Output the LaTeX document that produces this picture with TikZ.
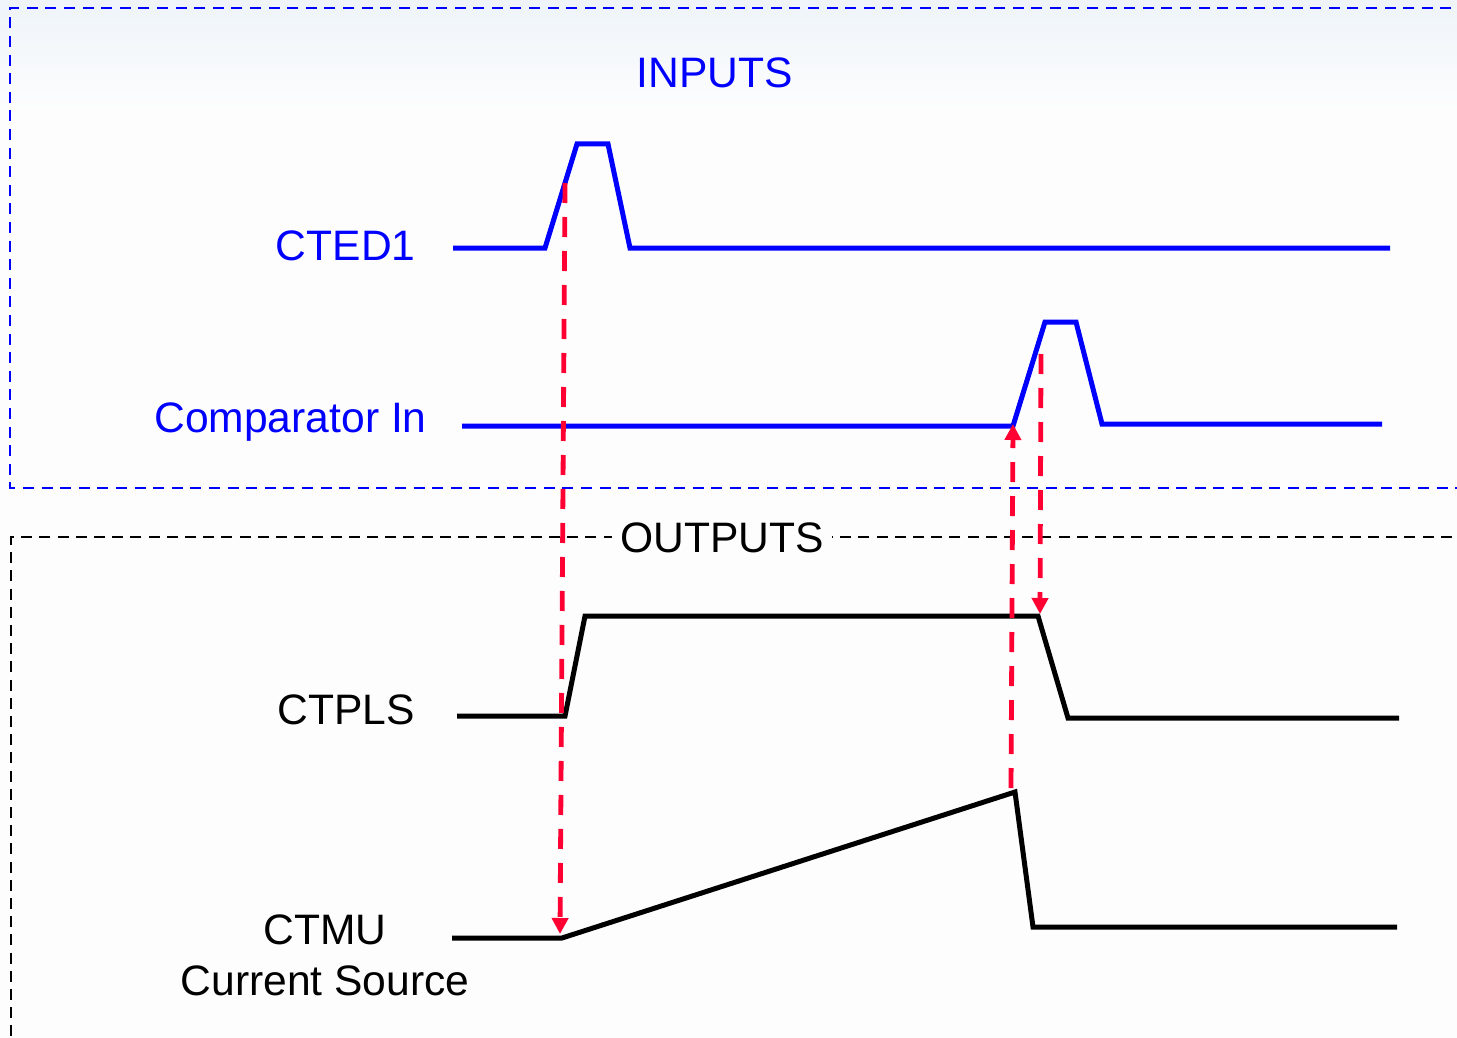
\documentclass[tikz,border=0pt]{standalone}
\usepackage{fontspec}
\setmainfont{Liberation Sans}
\usetikzlibrary{arrows.meta}
\definecolor{sigblue}{RGB}{0,0,255}
\definecolor{markred}{RGB}{255,0,51}
\definecolor{bgcol}{RGB}{253,253,253}
\definecolor{bgtop}{RGB}{238,244,250}
\begin{document}
\begin{tikzpicture}[x=0.5pt,y=-0.5pt,
  sigin/.style={draw=sigblue,line width=2.5pt,line join=miter},
  sigout/.style={draw=black,line width=2.5pt,line join=miter},
  inbox/.style={draw=sigblue,line width=1.2pt,dash pattern=on 5.5pt off 3.8pt},
  outbox/.style={draw=black,line width=1.1pt,dash pattern=on 5.5pt off 3.6pt},
  marker/.style={draw=markred,line width=2.4pt,dash pattern=on 10pt off 7pt,-{Triangle[width=8pt,length=8pt]}},
  lbl/.style={font=\fontsize{21.3pt}{25pt}\selectfont,inner sep=0pt},
]
\useasboundingbox (0,0) rectangle (1457,1038);
\fill[bgcol] (0,0) rectangle (1457,1038);
\shade[top color=bgtop,bottom color=bgcol] (0,0) rectangle (1457,110);

% section frames
\draw[inbox] (1470,8) -- (10,8) -- (10,488) -- (1470,488);
\draw[outbox] (1470,537) -- (11,537) -- (11,1050);

% labels
\node[lbl,text=sigblue,anchor=base] (inputs) at (715,88) {INPUTS};
\node[lbl,text=sigblue,anchor=base east] (cted) at (416,260) {CTED1};
\node[lbl,text=sigblue,anchor=base east] (comp) at (427,432) {Comparator In};
\node[lbl,fill=bgcol,inner xsep=4pt,anchor=base] (outputs) at (722,552) {OUTPUTS};
\node[lbl,anchor=base east] (ctpls) at (415,724) {CTPLS};
\node[lbl,anchor=base] (ctmu) at (325,944) {CTMU};
\node[lbl,anchor=base] (ctmusrc) at (325,995) {Current Source};

% waveforms
\draw[sigin] (453,248) -- (545,248) -- (577,144) -- (608,144) -- (630,248) -- (1390,248);
\draw[sigin] (462,426) -- (1013,426) -- (1045,322) -- (1076,322) -- (1102,424) -- (1382,424);
\draw[sigout] (457,716) -- (565,716) -- (585,616) -- (1038,616) -- (1068,718) -- (1399,718);
\draw[sigout] (452,938) -- (562,938) -- (1015,792) -- (1033,927) -- (1397,927);

% timing markers
\coordinate (m1s) at (565,183);
\coordinate (m1e) at (560,934);
\coordinate (m2s) at (1011,788);
\coordinate (m2e) at (1013,424);
\coordinate (m3s) at (1041,354);
\coordinate (m3e) at (1040,614);
\draw[marker] (m1s) -- (m1e);
\draw[marker] (m2s) -- (m2e);
\draw[marker] (m3s) -- (m3e);
\end{tikzpicture}
\end{document}
